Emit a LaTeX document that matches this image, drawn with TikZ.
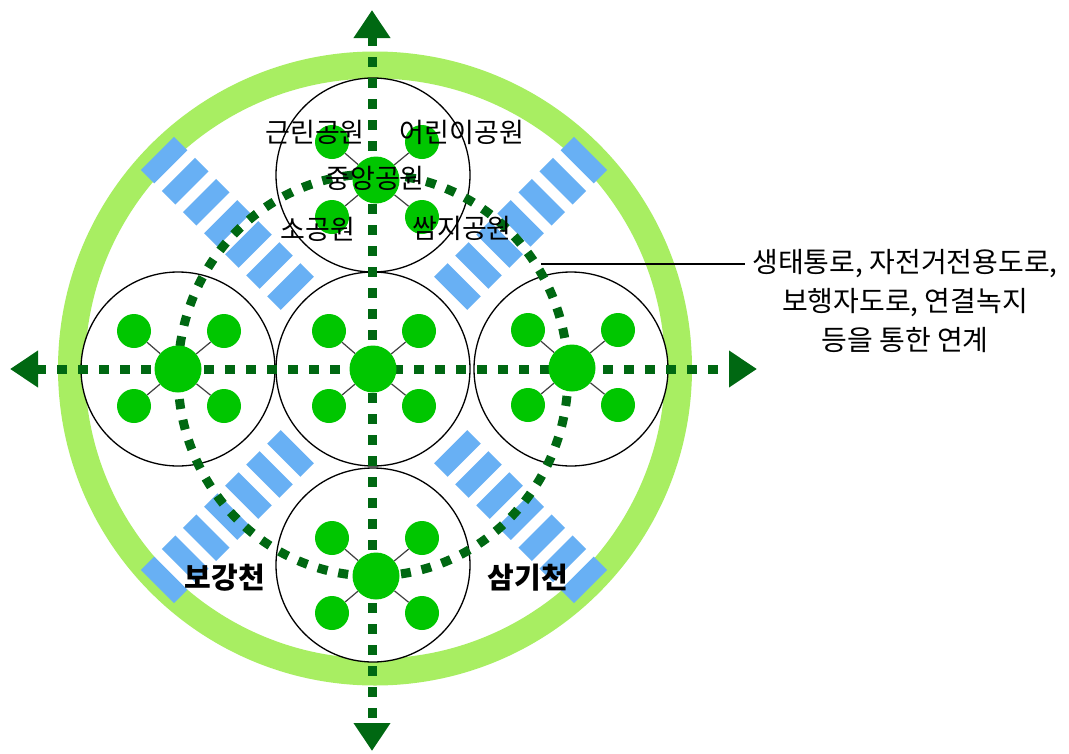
\documentclass[tikz,border=0pt]{standalone}
\usepackage{fontspec}
\setmainfont{Noto Sans CJK KR}
\usetikzlibrary{arrows.meta,calc}
\definecolor{ringgreen}{RGB}{168,238,98}
\definecolor{stripeblue}{RGB}{104,176,244}
\definecolor{dotgreen}{RGB}{0,104,18}
\definecolor{parkgreen}{RGB}{0,198,0}
\begin{document}
\begin{tikzpicture}[x=1pt,y=-1pt,
  zone/.style={circle,draw=black,line width=1.3pt,fill=white,minimum size=194pt,inner sep=0pt},
  hub/.style={circle,fill=parkgreen,minimum size=47pt,inner sep=0pt},
  park/.style={circle,fill=parkgreen,minimum size=34pt,inner sep=0pt},
  link/.style={draw=black!75,line width=1.2pt},
  dotline/.style={draw=dotgreen,line width=9pt,dash pattern=on 10pt off 11pt},
  axis/.style={dotline,{Triangle[length=28pt,width=35pt]}-{Triangle[length=28pt,width=35pt]}},
  stripe/.style={fill=stripeblue,minimum width=19pt,minimum height=47pt,inner sep=0pt},
  lbl/.style={font=\fontsize{27pt}{30pt}\selectfont,inner sep=0pt},
  river/.style={font=\fontsize{29pt}{32pt}\selectfont\bfseries,inner sep=0pt},
  desctext/.style={font=\fontsize{28pt}{39pt}\selectfont,align=center,inner xsep=7pt,inner ysep=0pt},
  leader/.style={draw=black,line width=1.1pt}
]
\path[use as bounding box,fill=white] (0,0) rectangle (1069,753);

% outer ring
\draw[ringgreen,line width=27pt] (375,368.5) circle (303.5);

% blue stripes
\foreach \t in {45,135,225,315}{
  \foreach \k in {0,...,6}{
    \pgfmathsetmacro\r{118+29.8*\k}
    \node[stripe,rotate=\t] (s\t-\k) at ({374+\r*cos(\t)},{370-\r*sin(\t)}) {};
  }
}

% zone circles
\node[zone] (zT) at (373,175) {};
\node[zone] (zL) at (178,369) {};
\node[zone] (zC) at (373,369) {};
\node[zone] (zR) at (571,369) {};
\node[zone] (zB) at (373,565) {};

% dotted ellipse
\draw[dotline] (373,375) ellipse [x radius=195, y radius=201];

% axes
\coordinate (axW) at (10,369);
\coordinate (axE) at (757,369);
\coordinate (axN) at (372,10);
\coordinate (axS) at (372,751);
\draw[axis] (axW) -- (axE);
\draw[axis] (axN) -- (axS);

% hubs and parks
\foreach \n/\hx/\hy in {T/376/180, L/178/369, C/373/369, R/572/368, B/376/576}{
  \node[hub] (h\n) at (\hx,\hy) {};
  \node[park] (p\n1) at (\hx-44,\hy-38) {};
  \node[park] (p\n2) at (\hx+46,\hy-38) {};
  \node[park] (p\n3) at (\hx-44,\hy+37) {};
  \node[park] (p\n4) at (\hx+46,\hy+37) {};
  \foreach \i in {1,2,3,4}{
    \draw[link] (h\n) -- (p\n\i);
  }
}

% labels
\node[lbl] (l1) at (315,132) {근린공원};
\node[lbl] (l2) at (462,132) {어린이공원};
\node[lbl] (l3) at (375,178) {중앙공원};
\node[lbl] (l4) at (318,229) {소공원};
\node[lbl] (l5) at (462,228) {쌈지공원};

\node[river] (r1) at (225,578) {보강천};
\node[river] (r2) at (528,578) {삼기천};

% description
\node[desctext] (desc) at (905,301) {생태통로, 자전거전용도로,\\보행자도로, 연결녹지\\등을 통한 연계};
\coordinate (lead) at (541,264);
\draw[leader] (lead) -- (lead -| desc.west);
\end{tikzpicture}
\end{document}
